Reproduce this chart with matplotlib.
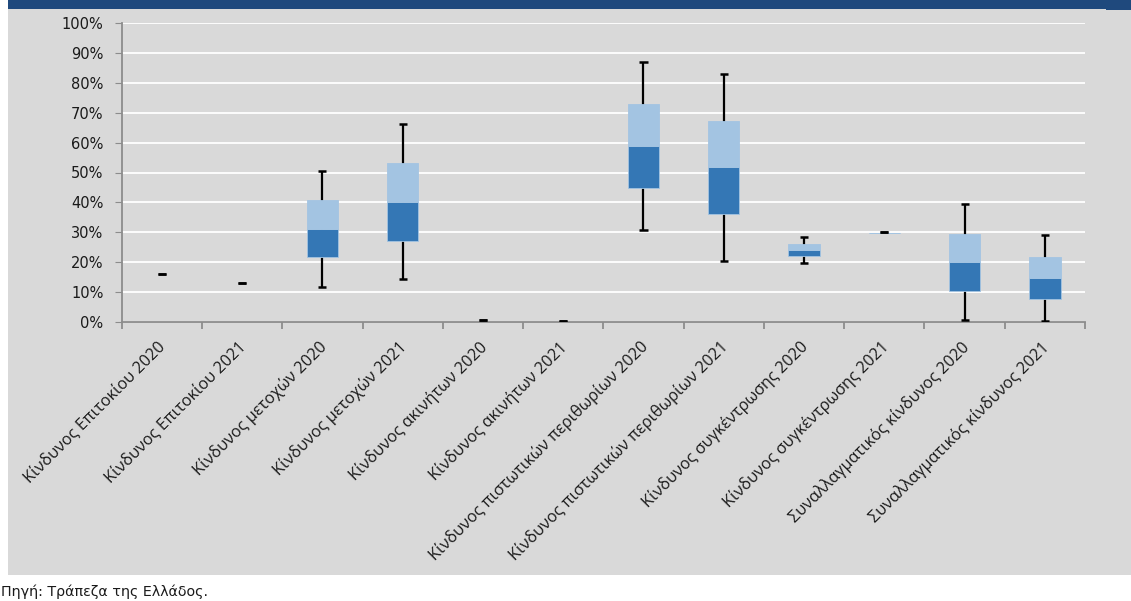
import matplotlib
matplotlib.use("Agg")
import matplotlib.pyplot as plt
import matplotlib.transforms as mtransforms
from matplotlib.patches import Rectangle
from matplotlib.ticker import PercentFormatter, FixedLocator
import numpy as np

nan = np.nan

labels = [
    "Κίνδυνος Επιτοκίου 2020", "Κίνδυνος Επιτοκίου 2021",
    "Κίνδυνος μετοχών 2020", "Κίνδυνος μετοχών 2021",
    "Κίνδυνος ακινήτων 2020", "Κίνδυνος ακινήτων 2021",
    "Κίνδυνος πιστωτικών περιθωρίων 2020", "Κίνδυνος πιστωτικών περιθωρίων 2021",
    "Κίνδυνος συγκέντρωσης 2020", "Κίνδυνος συγκέντρωσης 2021",
    "Συναλλαγματικός κίνδυνος 2020", "Συναλλαγματικός κίνδυνος 2021",
]
# values in %
low = [16.2, 13.0, 11.8, 14.3, 0.8, 0.3, 30.8, 20.4, 19.7, 30.0, 0.8, 0.3]
q1 = [nan, nan, 21.6, 27.2, nan, nan, 44.8, 36.0, 22.0, 29.8, 10.4, 7.6]
med = [nan, nan, 31.0, 40.1, nan, nan, 58.9, 51.8, 24.0, 29.8, 20.0, 14.8]
q3 = [nan, nan, 40.7, 53.3, nan, nan, 72.8, 67.3, 26.1, 29.8, 29.5, 21.8]
high = [16.2, 13.0, 50.6, 66.2, 0.8, 0.3, 87.1, 83.0, 28.3, 30.0, 39.4, 29.2]
source = "Πηγή: Τράπεζα της Ελλάδος."

dark = "#3477b5"
light = "#a3c4e2"
bg = "#d9d9d9"
navy = "#1f497d"

W, H = 1131, 601
fig = plt.figure(figsize=(W / 100, H / 100), dpi=100)
fig.patch.set_facecolor("white")

# panel background and top band
fig.add_artist(Rectangle((8 / W, 1 - 575 / H), 1 - 8 / W, (575 - 9) / H,
                         transform=fig.transFigure, facecolor=bg, edgecolor="none", zorder=0))
fig.add_artist(Rectangle((8 / W, 1 - 9 / H), 1 - 8 / W, 9 / H,
                         transform=fig.transFigure, facecolor=navy, edgecolor="none", zorder=0))
fig.add_artist(Rectangle((1106 / W, 1 - 10 / H), 1 - 1106 / W, 10 / H,
                         transform=fig.transFigure, facecolor=navy, edgecolor="none", zorder=0))

ax = fig.add_axes([121.7 / W, 1 - 322 / H, (1085 - 121.7) / W, (322 - 23) / H])
ax.set_facecolor(bg)
ax.patch.set_alpha(0)

x = np.arange(len(labels))
q1a, meda, q3a = np.array(q1), np.array(med), np.array(q3)

# whiskers and caps
ax.vlines(x, low, high, color="black", lw=1.6, zorder=2)
ax.hlines(low, x - 0.05, x + 0.05, color="black", lw=1.8, zorder=4)
ax.hlines(high, x - 0.05, x + 0.05, color="black", lw=1.8, zorder=4)

# two-tone boxes
bw = 0.39
ax.bar(x, meda - q1a, bottom=q1a, width=bw, color=dark, edgecolor=light, lw=0.6, zorder=3)
ax.bar(x, q3a - meda, bottom=meda, width=bw, color=light, edgecolor=light, lw=0.6, zorder=3)

ax.set_xlim(-0.5, len(labels) - 0.5)
ax.set_ylim(0, 100)
ax.set_yticks(np.arange(0, 101, 10))
ax.yaxis.set_major_formatter(PercentFormatter(decimals=0))
ax.grid(axis="y", color="white", lw=1.3, zorder=1)
ax.set_axisbelow(True)

for s in ["top", "right"]:
    ax.spines[s].set_visible(False)
for s in ["left", "bottom"]:
    ax.spines[s].set_color("#8c8c8c")
    ax.spines[s].set_linewidth(1.3)

ax.tick_params(axis="y", length=5, color="#8c8c8c", labelsize=10.5, pad=8.2, labelcolor="#1a1a1a")
ax.set_xticks(x)
ax.set_xticklabels(labels, rotation=45, ha="right", va="top", rotation_mode="anchor",
                   fontsize=11.7, fontfamily="Open Sans", color="#1a1a1a")
ax.tick_params(axis="x", length=0, pad=12)
ax.xaxis.set_minor_locator(FixedLocator(np.arange(-0.5, len(labels), 1)))
ax.tick_params(axis="x", which="minor", length=5, color="#8c8c8c", width=1.3)

shift = mtransforms.ScaledTranslation(-0.04, 0, fig.dpi_scale_trans)
for lab in ax.get_xticklabels():
    lab.set_transform(lab.get_transform() + shift)

fig.text(1 / W, 1 - 592 / H, source, fontsize=10.3, va="center", ha="left", color="#1a1a1a")

fig.savefig("out.png", dpi=100)
